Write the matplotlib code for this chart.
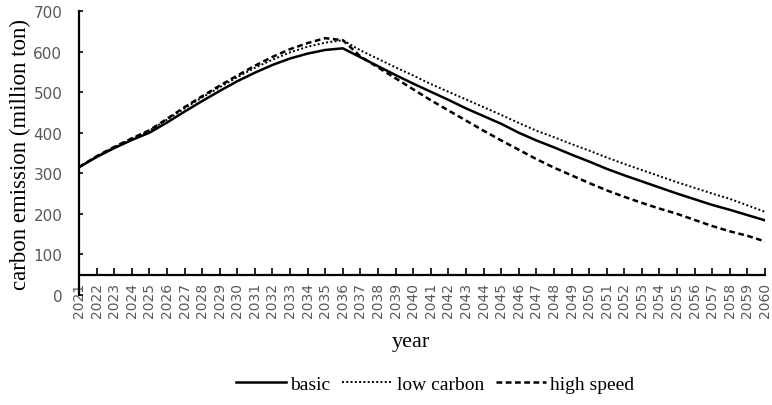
import matplotlib
matplotlib.use("Agg")
import matplotlib.pyplot as plt

years = list(range(2021, 2061))
basic = [315, 340, 362, 382, 400, 425, 452, 478, 503, 527, 548, 567, 583, 595, 604, 608,
         586, 564, 542, 521, 501, 481, 460, 441, 422, 400, 381, 364, 346, 329, 311, 295,
         280, 265, 250, 236, 222, 210, 197, 184]
low_carbon = [315, 342, 364, 385, 405, 432, 460, 487, 512, 537, 560, 580, 598, 612, 622, 628,
              603, 582, 561, 541, 520, 501, 482, 463, 444, 424, 405, 389, 372, 356, 339, 323,
              308, 293, 278, 264, 250, 237, 221, 205]
high_speed = [315, 342, 365, 386, 406, 434, 463, 490, 516, 541, 565, 587, 606, 621, 633, 628,
              588, 561, 534, 507, 480, 455, 430, 405, 381, 358, 335, 314, 295, 276, 258, 242,
              227, 213, 200, 185, 170, 157, 146, 132]
y_ticks = [0, 100, 200, 300, 400, 500, 600, 700]

fig = plt.figure(figsize=(7.72, 4.06), dpi=100)
ax = fig.add_axes([79/772, 1-296/406, (765-79)/772, (296-12)/406])

for s in ["top", "right"]:
    ax.spines[s].set_visible(False)
ax.spines["bottom"].set_position(("data", 50))
ax.spines["bottom"].set_linewidth(1.6)
ax.spines["left"].set_linewidth(1.6)

x = list(range(len(years)))
ax.plot(x, basic, color="black", lw=1.8, ls="-", label="basic")
ax.plot(x, low_carbon, color="black", lw=1.4, ls=(0, (1, 1.2)), label="low carbon")
ax.plot(x, high_speed, color="black", lw=1.8, ls=(0, (2.3, 1.4)), label="high speed")

ax.set_xlim(0, len(years)-1)
ax.set_ylim(0, 700)
ax.set_yticks(y_ticks)
ax.set_xticks(x)
ax.set_xticklabels([str(y) for y in years])

ax.tick_params(axis="y", direction="in", length=3, width=1.2, pad=12,
               labelsize=11, labelcolor="#595959")
ax.tick_params(axis="x", direction="in", length=5, width=1.2, pad=5,
               labelsize=10, labelcolor="#595959", labelrotation=90)

ax.set_ylabel("carbon emission (million ton)", fontsize=16.5,
              family="Liberation Serif", labelpad=2)
fig.text(411/772, 1-343/406, "year", fontsize=16, family="Liberation Serif",
         ha="center", va="center")

fig.legend(loc="center", bbox_to_anchor=(435/772, 1-385/406), ncol=3, frameon=False,
           prop={"family": "Liberation Serif", "size": 14}, handlelength=2.6,
           handletextpad=0.2, columnspacing=0.6)

fig.savefig("out.png", dpi=100)
